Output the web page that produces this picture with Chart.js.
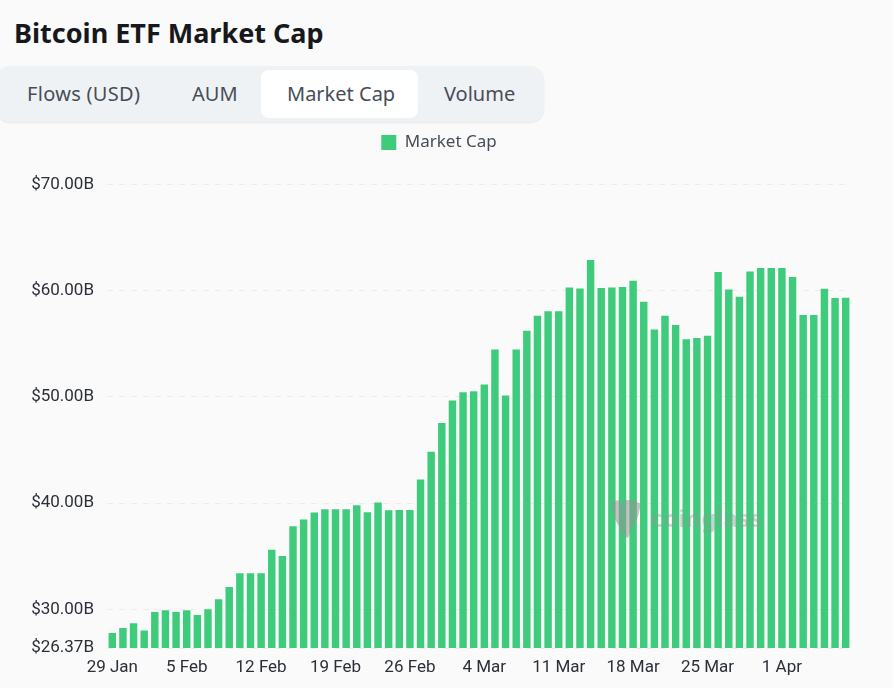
<!DOCTYPE html>
<html>
<head>
<meta charset="utf-8">
<title>Bitcoin ETF Market Cap</title>
<script src="https://cdn.jsdelivr.net/npm/chart.js@4"></script>
<style>
    html, body { margin: 0; padding: 0; background: #fafafa; }
    body { position: relative; width: 893px; height: 688px; overflow: hidden; font-family: 'Noto Sans', sans-serif; }
    h1 { position: absolute; left: 14px; top: 13px; margin: 0; font-size: 27px; line-height: 40px; font-weight: 700; color: #16181c; white-space: nowrap; }
    .tabs { position: absolute; left: -4px; top: 66px; width: 548px; height: 56px; background: #eff2f5; border-radius: 14px; box-shadow: 0 1px 2px rgba(0, 0, 0, 0.08); }
    .tab-active { position: absolute; left: 265px; top: 4px; width: 157px; height: 48px; background: #fff; border-radius: 8px; }
    .tab { position: absolute; top: 0; line-height: 56px; font-size: 20px; color: #474d57; white-space: nowrap; }
    #chartBox { position: absolute; left: 0; top: 125px; width: 893px; height: 563px; }
    .mark { position: absolute; left: 609px; top: 498px; pointer-events: none; }
    .mark-text { position: absolute; left: 651px; top: 502px; font-size: 24px; line-height: 32px; font-weight: 700; color: rgba(150, 150, 150, 0.42); pointer-events: none; }
</style>
</head>
<body>
<h1>Bitcoin ETF Market Cap</h1>
<div class="tabs">
    <div class="tab-active"></div>
    <div class="tab" style="left:31px;letter-spacing:0.3px">Flows (USD)</div>
    <div class="tab" style="left:196px">AUM</div>
    <div class="tab" style="left:291px">Market Cap</div>
    <div class="tab" style="left:448px">Volume</div>
</div>
<div id="chartBox"><canvas id="capChart"></canvas></div>
<svg class="mark" width="34" height="42" viewBox="0 0 34 42">
    <path d="M2 4 L10 2 L13 6 L16 2 L24 2 L32 6 L28 22 L22 32 L19 40 L14 38 L10 28 L5 20 Z" fill="rgba(150,150,150,0.55)"/>
</svg>
<div class="mark-text">coinglass</div>
<script>
const dates = [
    '29 Jan', '30 Jan', '31 Jan', '1 Feb', '2 Feb', '3 Feb', '4 Feb',
    '5 Feb', '6 Feb', '7 Feb', '8 Feb', '9 Feb', '10 Feb', '11 Feb',
    '12 Feb', '13 Feb', '14 Feb', '15 Feb', '16 Feb', '17 Feb', '18 Feb',
    '19 Feb', '20 Feb', '21 Feb', '22 Feb', '23 Feb', '24 Feb', '25 Feb',
    '26 Feb', '27 Feb', '28 Feb', '29 Feb', '1 Mar', '2 Mar', '3 Mar',
    '4 Mar', '5 Mar', '6 Mar', '7 Mar', '8 Mar', '9 Mar', '10 Mar',
    '11 Mar', '12 Mar', '13 Mar', '14 Mar', '15 Mar', '16 Mar', '17 Mar',
    '18 Mar', '19 Mar', '20 Mar', '21 Mar', '22 Mar', '23 Mar', '24 Mar',
    '25 Mar', '26 Mar', '27 Mar', '28 Mar', '29 Mar', '30 Mar', '31 Mar',
    '1 Apr', '2 Apr', '3 Apr', '4 Apr', '5 Apr', '6 Apr', '7 Apr'
];
const marketCap = [
    27.79, 28.26, 28.70, 28.01, 29.77, 29.92, 29.77,
    29.92, 29.48, 30.02, 30.96, 32.11, 33.40, 33.40,
    33.40, 35.62, 35.03, 37.84, 38.47, 39.13, 39.44,
    39.44, 39.44, 39.81, 39.15, 40.07, 39.34, 39.37,
    39.37, 42.23, 44.85, 47.56, 49.67, 50.44, 50.54,
    51.17, 54.46, 50.14, 54.46, 56.24, 57.65, 58.06,
    58.06, 60.31, 60.22, 62.89, 60.25, 60.31, 60.35,
    60.94, 58.97, 56.34, 57.65, 56.78, 55.43, 55.56,
    55.77, 61.76, 60.12, 59.44, 61.81, 62.13, 62.13,
    62.13, 61.29, 57.72, 57.72, 60.19, 59.32, 59.35
];
const xTickLabels = ['29 Jan', '5 Feb', '12 Feb', '19 Feb', '26 Feb', '4 Mar', '11 Mar', '18 Mar', '25 Mar', '1 Apr'];
const yTicks = [26.37, 30, 40, 50, 60, 70];

const tickFont = { family: "'Roboto', sans-serif", size: 17 };

// extra room under the legend, the plot starts lower than Chart.js would put it
const legendGap = {
    id: 'legendGap',
    beforeInit(chart) {
        const fit = chart.legend.fit;
        chart.legend.fit = function() {
            fit.call(this);
            this.height += 23.5;
        };
    }
};

new Chart(document.getElementById('capChart'), {
    type: 'bar',
    data: {
        labels: dates,
        datasets: [{
            label: 'Market Cap',
            data: marketCap,
            backgroundColor: '#3fcb7c',
            borderWidth: 0,
            barPercentage: 0.7,
            categoryPercentage: 1
        }]
    },
    plugins: [legendGap],
    options: {
        responsive: true,
        maintainAspectRatio: false,
        animation: false,
        layout: { padding: { left: 27, right: 42, top: 0, bottom: 0 } },
        plugins: {
            tooltip: { enabled: false },
            legend: {
                position: 'top',
                labels: {
                    boxWidth: 15,
                    boxHeight: 15,
                    padding: 9,
                    color: '#474d57',
                    font: { family: "'Noto Sans', sans-serif", size: 17 }
                }
            }
        },
        scales: {
            x: {
                grid: { display: false },
                border: { display: false },
                ticks: {
                    color: '#2b2f36',
                    font: tickFont,
                    autoSkip: false,
                    maxRotation: 0,
                    padding: 2,
                    callback: function(value) {
                        const label = this.getLabelForValue(value);
                        return xTickLabels.includes(label) ? label : '';
                    }
                },
                afterFit: scale => { scale.height = 40; }
            },
            y: {
                min: 26.37,
                max: 70,
                border: { display: false, dash: [6, 6] },
                grid: { color: '#ececec', drawTicks: false },
                ticks: {
                    color: '#2b2f36',
                    font: tickFont,
                    padding: 13,
                    callback: value => '$' + value.toFixed(2) + 'B'
                },
                afterBuildTicks: scale => { scale.ticks = yTicks.map(value => ({ value })); },
                afterFit: scale => { scale.width = 80; }
            }
        }
    }
});
</script>
</body>
</html>
